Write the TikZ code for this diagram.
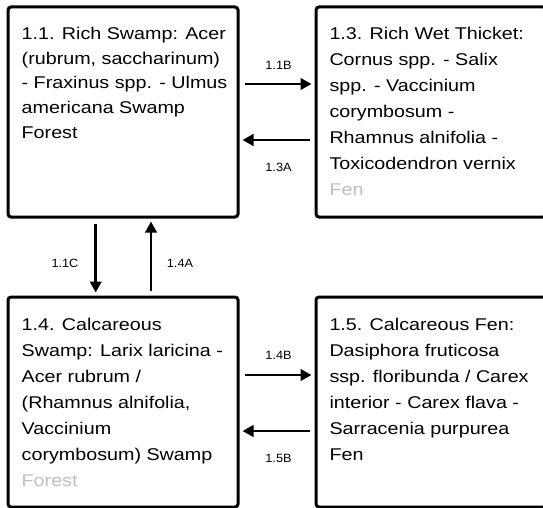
\documentclass[tikz,border=0pt]{standalone}
\usepackage{fontspec}
\setmainfont{Liberation Sans}
\usetikzlibrary{arrows.meta}
\newcommand\boxtxt[2]{\scalebox{1.16}[1]{\fontsize{17}{#1}\selectfont\begin{tabular}[t]{@{}l@{}}#2\end{tabular}}}
\newcommand\lbltxt[1]{\scalebox{1.06}[1]{\fontsize{12}{14}\selectfont #1}}
\newcommand\faded[1]{\textcolor{gray!50}{#1}}
\begin{document}
\begin{tikzpicture}[x=1pt,y=-1pt,
  statebox/.style={draw=black, line width=3pt, rounded corners=3pt, minimum width=230pt, minimum height=210pt, inner sep=0pt, fill=white},
  txt/.style={anchor=base west, inner sep=0pt, text=black},
  lbl/.style={anchor=center, inner sep=0pt, text=black},
  arr/.style={line width=2.6pt, -{Triangle[length=11pt,width=11.5pt]}, shorten <=5pt, shorten >=3pt}]
\useasboundingbox (0,0) rectangle (543,508);
\clip (0,0) rectangle (543,508);
\fill[white] (0,0) rectangle (543,508);
% boxes
\node[statebox] (b11) at (123,112) {};
\node[statebox] (b13) at (431,112) {};
\node[statebox] (b14) at (123,402) {};
\node[statebox] (b15) at (431,402) {};
% texts
\node[txt] (t11) at (21.5,39.3) {\boxtxt{24.8}{1.1. Rich Swamp: Acer\\(rubrum, saccharinum)\\- Fraxinus spp. - Ulmus\\americana Swamp\\Forest}};
\node[txt] (t13) at (329.3,39.3) {\boxtxt{26}{1.3. Rich Wet Thicket:\\Cornus spp. - Salix\\spp. - Vaccinium\\corymbosum -\\Rhamnus alnifolia -\\Toxicodendron vernix\\\faded{Fen}}};
\node[txt] (t14) at (21.5,330) {\boxtxt{26}{1.4. Calcareous\\Swamp: Larix laricina -\\Acer rubrum /\\(Rhamnus alnifolia,\\Vaccinium\\corymbosum) Swamp\\\faded{Forest}}};
\node[txt] (t15) at (329.3,330) {\boxtxt{26}{1.5. Calcareous Fen:\\Dasiphora fruticosa\\ssp. floribunda / Carex\\interior - Carex flava -\\Sarracenia purpurea\\Fen}};
% connectors
\draw[arr] (b11.east |- 0,84) -- (b13.west |- 0,84);
\draw[arr] (b13.west |- 0,140) -- (b11.east |- 0,140);
\draw[arr] (b11.south -| 95.7,0) -- (b14.north -| 95.7,0);
\draw[arr] (b14.north -| 151,0) -- (b11.south -| 151,0);
\draw[arr] (b14.east |- 0,375) -- (b15.west |- 0,375);
\draw[arr] (b15.west |- 0,431) -- (b14.east |- 0,431);
% labels
\node[lbl] (l11b) at (278.5,65) {\lbltxt{1.1B}};
\node[lbl] (l13a) at (278.5,167) {\lbltxt{1.3A}};
\node[lbl] (l14b) at (278.5,355) {\lbltxt{1.4B}};
\node[lbl] (l15b) at (278.5,458) {\lbltxt{1.5B}};
\node[lbl] (l11c) at (65,263) {\lbltxt{1.1C}};
\node[lbl] (l14a) at (180,263) {\lbltxt{1.4A}};
\end{tikzpicture}
\end{document}
